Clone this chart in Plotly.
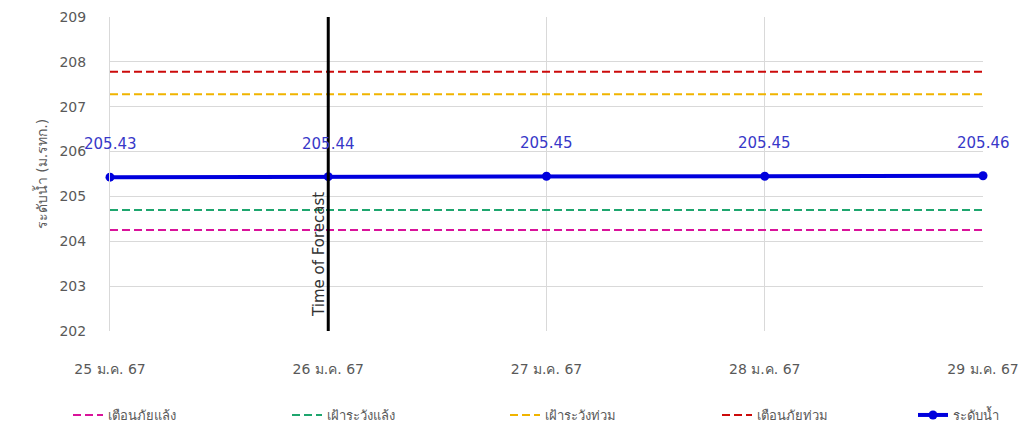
import plotly.graph_objects as go

dates = ["25 ม.ค. 67", "26 ม.ค. 67", "27 ม.ค. 67", "28 ม.ค. 67", "29 ม.ค. 67"]
water_level = [205.43, 205.44, 205.45, 205.45, 205.46]
drought_warning = [204.25] * 5      # เตือนภัยแล้ง
drought_watch = [204.7] * 5         # เฝ้าระวังแล้ง
flood_watch = [207.28] * 5          # เฝ้าระวังท่วม
flood_warning = [207.78] * 5        # เตือนภัยท่วม
forecast_date = "26 ม.ค. 67"
y_ticks = [202, 203, 204, 205, 206, 207, 208, 209]
y_ticktext = ["202", "203", "204", "205", "206", "207", "208", "209"]

FONT = "Tahoma, DejaVu Sans, Noto Sans, sans-serif"
L, R, T, B, W, H = 110, 45, 17, 100, 1028, 431
PW = W - L - R

fig = go.Figure()

legend_text_px = [113, 332, 550, 762, 958]
legend_names = ["legend", "legend2", "legend3", "legend4", "legend5"]

def ref(name, vals, color, lg):
    fig.add_trace(go.Scatter(x=dates, y=vals, mode="lines", name=name, legend=lg,
                             line=dict(color=color, width=2, dash="8px,4px"),
                             hoverinfo="skip"))

ref("เตือนภัยแล้ง", drought_warning, "#d9139a", "legend")
ref("เฝ้าระวังแล้ง", drought_watch, "#1ea66e", "legend2")
ref("เฝ้าระวังท่วม", flood_watch, "#f0b400", "legend3")
ref("เตือนภัยท่วม", flood_warning, "#cc0a0a", "legend4")

fig.add_trace(go.Scatter(x=dates, y=water_level, mode="lines+markers", name="ระดับน้ำ",
                         legend="legend5",
                         line=dict(color="#0000dd", width=4),
                         marker=dict(size=9, color="#0000dd"),
                         cliponaxis=False))

for d, v in zip(dates, water_level):
    fig.add_annotation(x=d, y=v, xref="x", yref="y", text=f"{v:.2f}", showarrow=False,
                       yshift=33, font=dict(color="#3838c8", size=15, family=FONT))

fig.add_trace(go.Scatter(x=[forecast_date, forecast_date], y=[202, 209], mode="lines",
                         line=dict(color="black", width=3), showlegend=False,
                         hoverinfo="skip", cliponaxis=False))

fig.add_annotation(x=forecast_date, y=203.7, xref="x", yref="y", text="Time of Forecast",
                   textangle=-90, showarrow=False, xshift=-10,
                   font=dict(size=15, color="#333333", family=FONT))

fig.update_xaxes(type="category", range=[0, 4], showgrid=True, gridcolor="#d9d9d9",
                 gridwidth=1, showline=False, zeroline=False, ticks="",
                 ticklabelstandoff=28,
                 tickfont=dict(size=14, color="#595959", family=FONT))
fig.update_yaxes(range=[202, 209], tickvals=y_ticks, ticktext=y_ticktext,
                 showgrid=True, gridcolor="#d9d9d9", gridwidth=1, zeroline=False,
                 showline=True, linecolor="#d9d9d9", ticks="",
                 ticklabelstandoff=20,
                 tickfont=dict(size=14, color="#595959", family=FONT),
                 title=dict(text="ระดับน้ำ (ม.รทก.)", font=dict(size=14, color="#595959", family=FONT),
                            standoff=8))

legend_y = -(415 - (H - B)) / (H - T - B)
legends = {}
for name, px in zip(legend_names, legend_text_px):
    legends[name] = dict(orientation="h", x=(px - 45 - L) / PW, xanchor="left",
                         y=legend_y, yanchor="middle", bgcolor="rgba(0,0,0,0)",
                         font=dict(size=13, color="#595959", family=FONT))

fig.update_layout(
    width=W, height=H,
    margin=dict(l=L, r=R, t=T, b=B, autoexpand=False),
    plot_bgcolor="white", paper_bgcolor="white",
    font=dict(family=FONT, color="#595959"),
    **legends,
)

fig.write_html("out.html", config={"displayModeBar": False},
               post_script="document.body.style.margin='0';document.body.style.overflow='hidden';")
